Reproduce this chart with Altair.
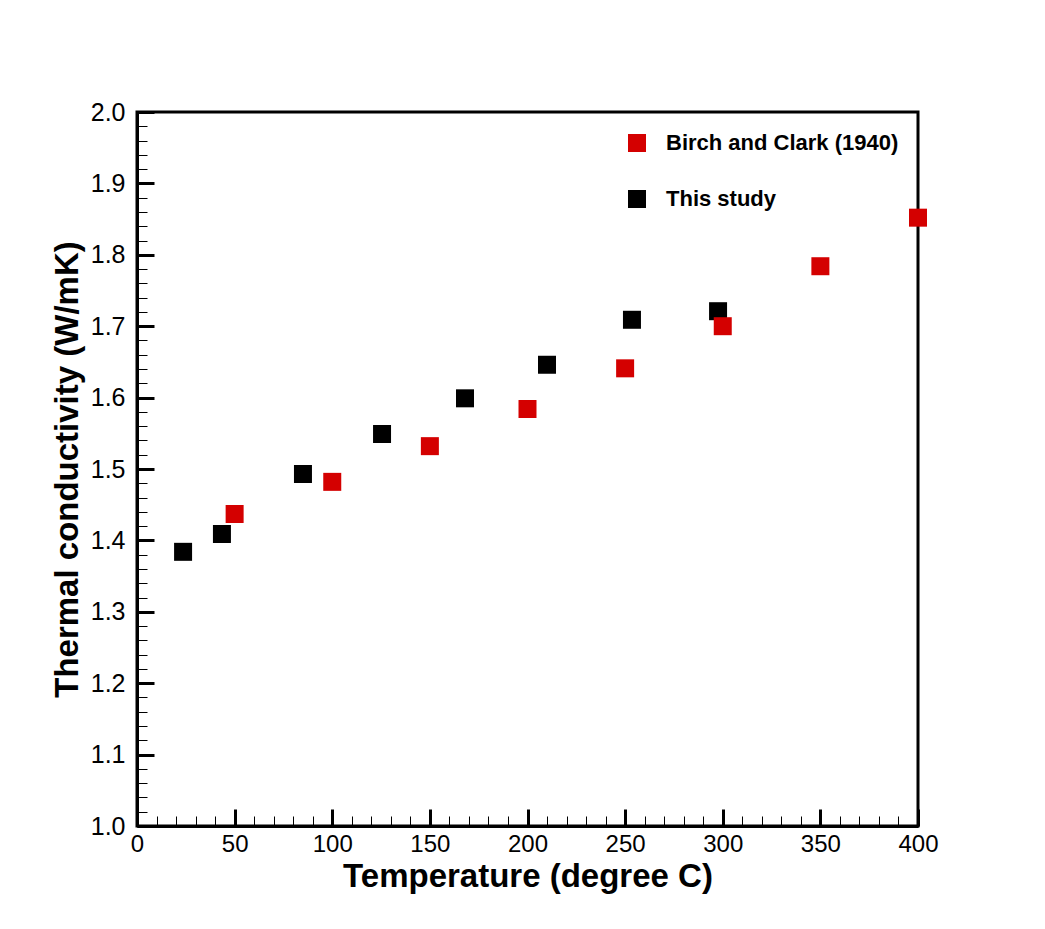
import altair as alt
import pandas as pd

# Data
this_x = [23.6, 43.5, 85.0, 125.5, 168.0, 210.0, 253.5, 297.6]
this_y = [1.384, 1.409, 1.493, 1.549, 1.599, 1.646, 1.709, 1.721]
birch_x = [50, 100, 150, 200, 250, 300, 350, 400]
birch_y = [1.437, 1.482, 1.532, 1.584, 1.641, 1.700, 1.784, 1.852]

series_names = ["Birch and Clark (1940)", "This study"]
series_colors = ["#d40000", "#000000"]

x_major = [0, 50, 100, 150, 200, 250, 300, 350, 400]
x_minor = list(range(0, 401, 10))
y_major = [1.0, 1.1, 1.2, 1.3, 1.4, 1.5, 1.6, 1.7, 1.8, 1.9, 2.0]
y_minor = [round(1.0 + 0.02 * i, 2) for i in range(51)]

rows = [{"temp": x, "k": y, "series": "This study"} for x, y in zip(this_x, this_y)]
rows += [{"temp": x, "k": y, "series": "Birch and Clark (1940)"} for x, y in zip(birch_x, birch_y)]
df = pd.DataFrame(rows)
df["order"] = range(len(df))

W, H = 781, 714
FONT = "Liberation Sans"

xs = alt.Scale(domain=[0, 400], nice=False)
ys = alt.Scale(domain=[1.0, 2.0], nice=False, zero=False)

base = alt.Chart(df)


def tick_layer(xvals, yvals, length, width):
    return base.mark_point(opacity=0).encode(
        x=alt.X("temp:Q", scale=xs, title=None,
                axis=alt.Axis(orient="bottom", offset=-length, tickSize=length, tickWidth=width,
                              tickColor="black", values=xvals, labels=False, domain=False,
                              grid=False)),
        y=alt.Y("k:Q", scale=ys, title=None,
                axis=alt.Axis(orient="left", offset=-length, tickSize=length, tickWidth=width,
                              tickColor="black", values=yvals, labels=False, domain=False,
                              grid=False)),
    )


minor = tick_layer(x_minor, y_minor, 10, 1)
major = tick_layer(x_major, y_major, 17, 3)

points = base.mark_square(size=324, opacity=1).encode(
    x=alt.X("temp:Q", scale=xs, title="Temperature (degree C)",
            axis=alt.Axis(orient="bottom", values=x_major, ticks=False, grid=False,
                          domainWidth=3, domainColor="black", labelFontSize=24,
                          labelFont=FONT, labelColor="black", labelPadding=6,
                          labelFlush=False, labelOverlap=False,
                          titleFont=FONT, titleFontSize=33, titleFontWeight="bold",
                          titleColor="black", titlePadding=4)),
    y=alt.Y("k:Q", scale=ys, title="Thermal conductivity (W/mK)",
            axis=alt.Axis(orient="left", values=y_major, ticks=False, grid=False, format=".1f",
                          domainWidth=3, domainColor="black", labelFontSize=25,
                          labelFont=FONT, labelColor="black", labelPadding=12,
                          labelFlush=False, labelOverlap=False,
                          titleFont=FONT, titleFontSize=33, titleFontWeight="bold",
                          titleColor="black", titlePadding=6)),
    color=alt.Color("series:N",
                    scale=alt.Scale(domain=series_names, range=series_colors),
                    legend=alt.Legend(title=None, orient="none", legendX=489, legendY=20,
                                      symbolType="square", symbolSize=324, symbolStrokeWidth=0,
                                      symbolOpacity=1, labelFont=FONT, labelFontSize=22,
                                      labelFontWeight="bold", labelColor="black",
                                      labelLimit=0, labelOffset=18, rowPadding=34,
                                      padding=0)),
    order=alt.Order("order:Q"),
)

chart = alt.layer(minor, major, points).resolve_axis(
    x="independent", y="independent"
).properties(
    width=W, height=H,
    autosize=alt.AutoSizeParams(type="none"),
    padding={"left": 129, "top": 104, "right": 119, "bottom": 95},
).configure_view(stroke="black", strokeWidth=3)

chart.save("out.html", embed_options={"renderer": "svg", "actions": False})
